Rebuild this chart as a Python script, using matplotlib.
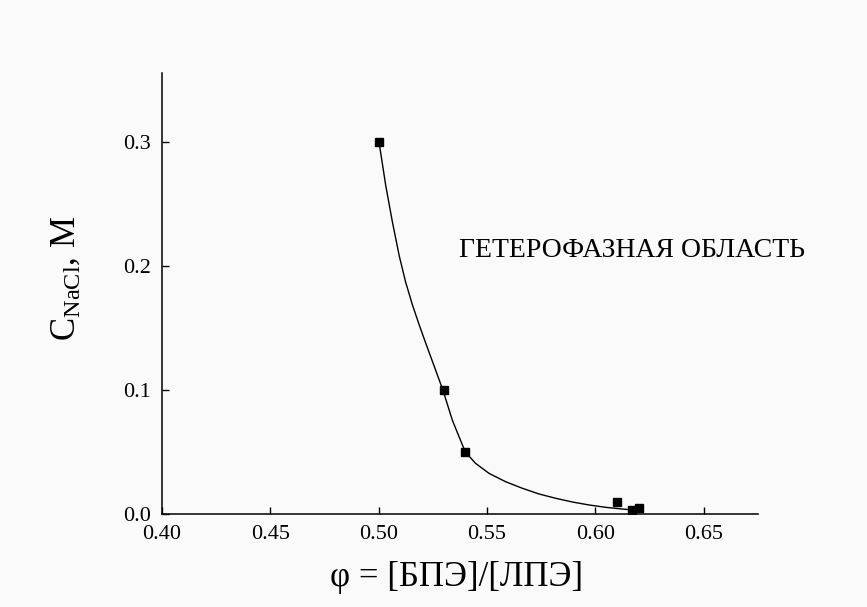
import matplotlib
matplotlib.use("Agg")
import matplotlib.pyplot as plt

# measured points
phi = [0.50, 0.53, 0.54, 0.61, 0.617, 0.62]
c_nacl = [0.30, 0.10, 0.05, 0.010, 0.0032, 0.0046]

# fitted curve
curve_x = [0.5001, 0.5032, 0.5063, 0.5094, 0.5124, 0.5155, 0.5186, 0.5217, 0.5256,
           0.5297, 0.5340, 0.5399, 0.5446, 0.5508, 0.5585, 0.5662, 0.5739, 0.5816,
           0.5893, 0.5970, 0.6047, 0.6124, 0.6178]
curve_y = [0.3005, 0.2654, 0.2357, 0.2088, 0.1872, 0.1690, 0.1530, 0.1378, 0.1192,
           0.0995, 0.0755, 0.0502, 0.0410, 0.0329, 0.0261, 0.0208, 0.0162, 0.0127,
           0.0097, 0.0073, 0.0054, 0.0040, 0.0032]

xticks = [0.40, 0.45, 0.50, 0.55, 0.60, 0.65]
yticks = [0.0, 0.1, 0.2, 0.3]

plt.rcParams['font.family'] = ['Liberation Serif', 'DejaVu Serif']
plt.rcParams['mathtext.fontset'] = 'custom'
plt.rcParams['mathtext.rm'] = 'Liberation Serif'
plt.rcParams['mathtext.it'] = 'Liberation Serif:italic'

fig = plt.figure(figsize=(8.67, 6.07), dpi=100, facecolor='#fafafa')
ax = fig.add_axes([0.1869, 0.1532, 0.6874, 0.7265])
ax.set_facecolor('#fafafa')

ax.plot(curve_x, curve_y, color='black', lw=1.0)
ax.plot(phi, c_nacl, 's', color='black', ms=6)

ax.set_xlim(0.40, 0.675)
ax.set_ylim(0.0, 0.356)
ax.set_xticks(xticks)
ax.set_xticklabels([f"{t:.2f}" for t in xticks])
ax.set_yticks(yticks)
ax.set_yticklabels([f"{t:.1f}" for t in yticks])
ax.tick_params(direction='in', length=5, width=1, labelsize=16)
ax.tick_params(axis='x', pad=8)
ax.tick_params(axis='y', pad=8)

ax.spines['top'].set_visible(False)
ax.spines['right'].set_visible(False)
ax.spines['left'].set_linewidth(1.1)
ax.spines['bottom'].set_linewidth(1.1)

ax.text(0.5372, 0.2128, "ГЕТЕРОФАЗНАЯ ОБЛАСТЬ", fontsize=20, va='center', ha='left')

fig.text(0.527, 0.049, "φ = [БПЭ]/[ЛПЭ]", fontsize=25, ha='center', va='center')
fig.text(0.076, 0.5404, r"C$_{\mathrm{NaCl}}$, M", fontsize=25, rotation=90,
         ha='center', va='center')

fig.savefig("out.png", dpi=100, facecolor=fig.get_facecolor())
